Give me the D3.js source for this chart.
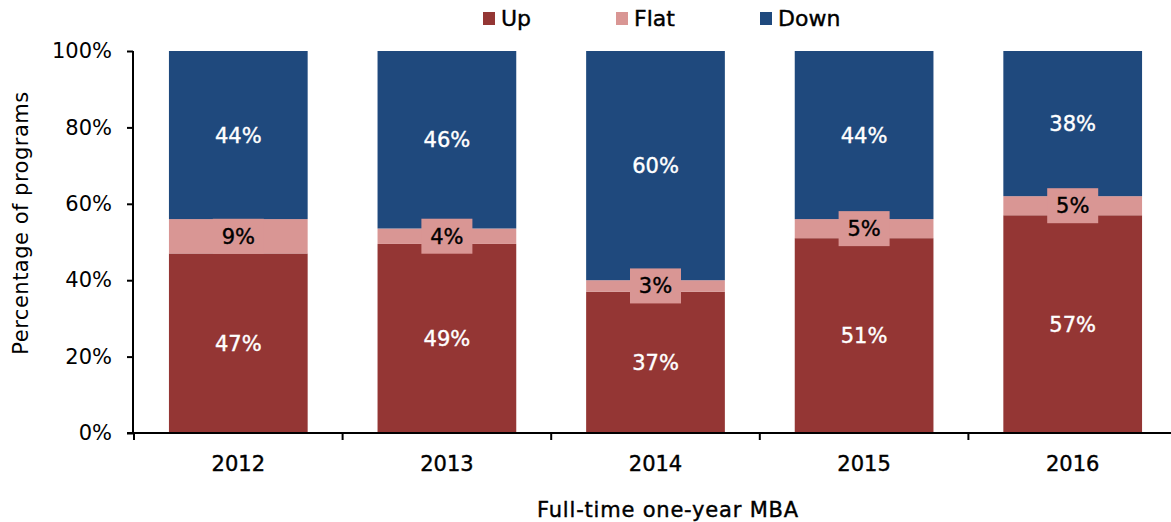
<!DOCTYPE html>
<html>
<head>
<meta charset="utf-8">
<script src="https://cdn.jsdelivr.net/npm/d3@7"></script>
<style>
  body { margin: 0; background: #fff; }
  text { font-family: "DejaVu Sans", "Noto Sans", sans-serif; }
</style>
</head>
<body>
<script>
// chart data
var years = ['2012', '2013', '2014', '2015', '2016'];
var series = ['Up', 'Flat', 'Down'];
var up = [47, 49, 37, 51, 57];
var flat = [9, 4, 3, 5, 5];
var down = [44, 46, 60, 44, 38];
var yTicks = [0, 0.2, 0.4, 0.6, 0.8, 1];
var colors = ['#943634', '#D99694', '#1F497D'];
var textColors = ['#fff', '#000', '#fff'];

var W = 1171, H = 522;
var mLeft = 134, mRight = 1177, mTop = 51, mBottom = 433;
var fontFam = '"DejaVu Sans", "Noto Sans", sans-serif';

var rows = years.map(function(y, i) {
  return { year: y, Up: up[i], Flat: flat[i], Down: down[i] };
});

// 2013 sums to 99, expand keeps every bar at 100%
var stack = d3.stack().keys(series).offset(d3.stackOffsetExpand);
var layers = stack(rows);

var svg = d3.select('body').append('svg')
  .attr('width', W)
  .attr('height', H);

var x = d3.scaleBand().domain(years).range([mLeft, mRight]).paddingInner(0.335).paddingOuter(0.1675);
var y = d3.scaleLinear().domain([0, 1]).range([mBottom, mTop]);

// bars
var group = svg.append('g');
layers.forEach(function(layer, k) {
  group.selectAll('rect.s' + k)
    .data(layer)
    .enter().append('rect')
    .attr('x', function(d) { return x(d.data.year); })
    .attr('y', function(d) { return y(d[1]); })
    .attr('width', x.bandwidth())
    .attr('height', function(d) { return y(d[0]) - y(d[1]); })
    .style('fill', colors[k]);
});

// data labels (thin stroke to get a medium weight)
layers.forEach(function(layer, k) {
  layer.forEach(function(d) {
    var cx = x(d.data.year) + x.bandwidth() / 2;
    var cy = (y(d[0]) + y(d[1])) / 2;
    if (k == 1) {
      group.append('rect')
        .attr('x', cx - 25.5)
        .attr('y', cy - 17.5)
        .attr('width', 51)
        .attr('height', 35)
        .style('fill', colors[1]);
    }
    group.append('text')
      .attr('x', cx)
      .attr('y', cy)
      .attr('dy', '0.36em')
      .attr('text-anchor', 'middle')
      .style('font-size', '21px')
      .style('fill', textColors[k])
      .style('stroke', textColors[k])
      .style('stroke-width', 0.4)
      .text(d.data[series[k]] + '%');
  });
});

// y axis
var yAxis = svg.append('g')
  .attr('transform', 'translate(' + (mLeft - 1) + ',0)')
  .call(d3.axisLeft(y).tickValues(yTicks).tickFormat(d3.format('.0%')).tickSize(6).tickPadding(15));
yAxis.select('.domain').attr('d', 'M0,' + mTop + 'V' + mBottom).style('stroke', '#000').style('stroke-width', 2);
yAxis.selectAll('.tick line').style('stroke', '#000').style('stroke-width', 2);
yAxis.selectAll('.tick text').style('font-size', '21px').style('fill', '#000')
  .style('font-family', fontFam);

// x axis, ticks sit between the categories
var xAxis = svg.append('g')
  .attr('transform', 'translate(0,' + mBottom + ')');
xAxis.append('line')
  .attr('x1', mLeft - 7).attr('x2', W)
  .style('stroke', '#000').style('stroke-width', 2);
var step = x.step();
years.forEach(function(yr, i) {
  var bx = x(yr) - step * x.paddingInner() / 2;
  xAxis.append('line')
    .attr('x1', bx).attr('x2', bx)
    .attr('y1', 0).attr('y2', 7)
    .style('stroke', '#000').style('stroke-width', 2);
  xAxis.append('text')
    .attr('x', x(yr) + x.bandwidth() / 2)
    .attr('y', 38)
    .attr('text-anchor', 'middle')
    .style('font-size', '21px')
    .style('stroke', '#000')
    .style('stroke-width', 0.4)
    .text(yr);
});

// axis titles
svg.append('text')
  .attr('transform', 'translate(28,223) rotate(-90)')
  .attr('text-anchor', 'middle')
  .style('font-size', '21px')
  .style('letter-spacing', '0.5px')
  .text('Percentage of programs');

svg.append('text')
  .attr('x', 668)
  .attr('y', 517)
  .attr('text-anchor', 'middle')
  .style('font-size', '21px')
  .style('letter-spacing', '0.8px')
  .style('stroke', '#000')
  .style('stroke-width', 0.4)
  .text('Full-time one-year MBA');

// legend
var legendX = [483, 616, 760];
series.forEach(function(s, i) {
  svg.append('rect')
    .attr('x', legendX[i]).attr('y', 12)
    .attr('width', 12).attr('height', 13)
    .style('fill', colors[i]);
  svg.append('text')
    .attr('x', legendX[i] + 18).attr('y', 26)
    .style('font-size', '22px')
    .style('stroke', '#000')
    .style('stroke-width', 0.4)
    .text(s);
});
</script>
</body>
</html>
